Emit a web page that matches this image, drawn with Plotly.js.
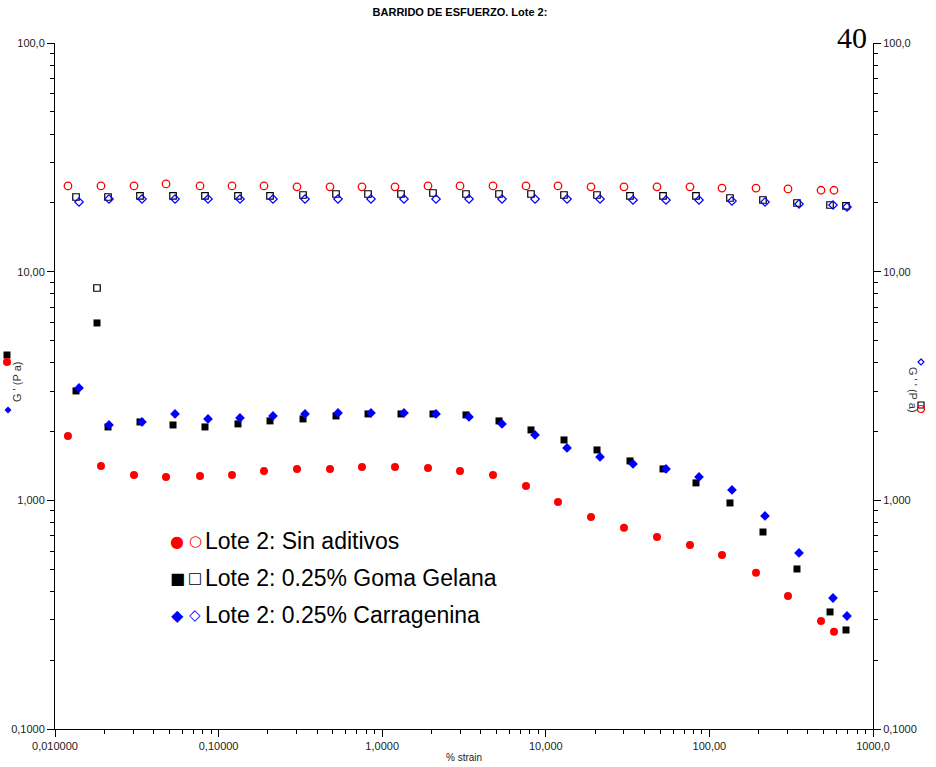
<!DOCTYPE html>
<html>
<head>
<meta charset="utf-8">
<script src="https://cdn.plot.ly/plotly-3.0.1.min.js"></script>
<style>html,body{margin:0;padding:0;background:#fff;}#chart{width:936px;height:767px;}</style>
</head>
<body>
<div id="chart"></div>
<script>
// Strain (%) values for each sample
const strainSin = [0.0120, 0.0191, 0.0304, 0.0477, 0.0770, 0.1208, 0.1894, 0.3014, 0.4798, 0.7523, 1.197, 1.905, 2.990, 4.757, 7.568, 11.87, 18.89, 30.06, 47.83, 76.10, 119.4, 192.7, 302.2, 481.2, 577.6];
const strainGelana = [0.01344, 0.01806, 0.02109, 0.03308, 0.05265, 0.08257, 0.1314, 0.2062, 0.3281, 0.5221, 0.8190, 1.303, 2.044, 3.252, 5.175, 8.120, 12.92, 20.56, 32.71, 52.05, 82.81, 133.6, 212.6, 343.1, 546.1, 683.9];
const strainCarr = [0.01402, 0.02138, 0.03401, 0.05415, 0.08614, 0.1351, 0.2150, 0.3374, 0.5369, 0.8541, 1.359, 2.133, 3.394, 5.399, 8.592, 13.48, 21.45, 34.12, 54.29, 86.38, 137.4, 218.7, 352.9, 569.4, 693.5];

// G' (Pa)
const gpSin = [1.912, 1.414, 1.291, 1.266, 1.279, 1.291, 1.345, 1.372, 1.372, 1.400, 1.400, 1.386, 1.345, 1.291, 1.156, 0.984, 0.846, 0.758, 0.692, 0.638, 0.577, 0.482, 0.382, 0.297, 0.266];
const gpGelana = [3.009, 5.966, 2.094, 2.202, 2.136, 2.094, 2.159, 2.225, 2.270, 2.339, 2.387, 2.387, 2.387, 2.363, 2.225, 2.032, 1.837, 1.661, 1.487, 1.372, 1.192, 0.974, 0.727, 0.501, 0.325, 0.271];
const gpCarr = [3.101, 2.136, 2.202, 2.387, 2.270, 2.293, 2.339, 2.387, 2.411, 2.411, 2.411, 2.387, 2.316, 2.159, 1.932, 1.695, 1.548, 1.443, 1.372, 1.266, 1.110, 0.855, 0.589, 0.374, 0.312];

// G'' (Pa)
const gppSin = [23.7, 23.7, 23.7, 24.2, 23.7, 23.7, 23.7, 23.5, 23.5, 23.5, 23.5, 23.7, 23.7, 23.7, 23.7, 23.7, 23.5, 23.5, 23.5, 23.5, 23.2, 23.2, 23.0, 22.7, 22.7];
const gppGelana = [21.21, 8.485, 21.21, 21.43, 21.43, 21.43, 21.43, 21.43, 21.64, 21.86, 21.86, 21.86, 22.08, 21.86, 21.86, 21.86, 21.64, 21.64, 21.43, 21.43, 21.43, 21.00, 20.58, 19.97, 19.57, 19.38];
const gppCarr = [20.17, 20.79, 20.79, 20.79, 20.79, 20.79, 20.79, 20.79, 20.79, 20.79, 20.79, 20.79, 20.79, 20.79, 20.79, 20.79, 20.79, 20.58, 20.58, 20.58, 20.38, 20.17, 19.77, 19.57, 19.18];

// Tick labels
const xTickVals = [0.01, 0.1, 1, 10, 100, 1000];
const xTickText = ["0,010000", "0,10000", "1,0000", "10,000", "100,00", "1000,0"];
const yTickVals = [0.1, 1, 10, 100];
const yTickText = ["0,1000", "1,000", "10,00", "100,0"];

const seriesNames = ["Lote 2: Sin aditivos", "Lote 2: 0.25% Goma Gelana", "Lote 2: 0.25% Carragenina"];

const RED = '#ff0000', BLUE = '#0000ff', BLACK = '#000000';

const traces = [
  {x: strainSin, y: gpSin, mode: 'markers', marker: {symbol: 'circle', size: 8, color: RED}, name: seriesNames[0], yaxis: 'y'},
  {x: strainGelana, y: gpGelana, mode: 'markers', marker: {symbol: 'square', size: 7, color: BLACK}, name: seriesNames[1], yaxis: 'y'},
  {x: strainCarr, y: gpCarr, mode: 'markers', marker: {symbol: 'diamond', size: 7.5, color: BLUE}, name: seriesNames[2], yaxis: 'y'},
  {x: strainSin, y: gppSin, mode: 'markers', marker: {symbol: 'circle-open', size: 7.5, color: RED, line: {width: 1.3}}, name: seriesNames[0], yaxis: 'y2'},
  {x: strainGelana, y: gppGelana, mode: 'markers', marker: {symbol: 'square-open', size: 6.5, color: BLACK, line: {width: 1.2}}, name: seriesNames[1], yaxis: 'y2'},
  {x: strainCarr, y: gppCarr, mode: 'markers', marker: {symbol: 'diamond-open', size: 6.5, color: BLUE, line: {width: 1.2}}, name: seriesNames[2], yaxis: 'y2'}
];

const tickFont = {family: 'Liberation Sans, Arial, sans-serif', size: 11, color: '#222'};
const yRange = [Math.log10(0.1), Math.log10(100)];

const yBase = {
  type: 'log', range: yRange, tickmode: 'array', tickvals: yTickVals, ticktext: yTickText,
  showgrid: false, zeroline: false, showline: true, linecolor: '#000', linewidth: 1,
  ticks: 'outside', ticklen: 7, tickcolor: '#000', tickfont: tickFont,
  minor: {dtick: 'D1', ticks: 'outside', ticklen: 4, tickcolor: '#000', showgrid: false}
};

function px2x(px) { return (px - 55) / 818; }
function px2y(py) { return (729 - py) / 686; }

const legendRows = [
  {y: 541, c: RED, f: '●', o: '○', t: seriesNames[0]},
  {y: 578, c: BLACK, f: '■', o: '□', t: seriesNames[1]},
  {y: 615, c: BLUE, f: '◆', o: '◇', t: seriesNames[2]}
];

const annotations = [];
legendRows.forEach(r => {
  annotations.push({xref: 'paper', yref: 'paper', x: px2x(177), y: px2y(r.y), text: r.f, showarrow: false, xanchor: 'center', yanchor: 'middle', font: {family: 'DejaVu Sans', size: 16, color: r.c}});
  annotations.push({xref: 'paper', yref: 'paper', x: px2x(195), y: px2y(r.y), text: r.o, showarrow: false, xanchor: 'center', yanchor: 'middle', font: {family: 'DejaVu Sans', size: 15, color: r.c}});
  annotations.push({xref: 'paper', yref: 'paper', x: px2x(203), y: px2y(r.y), text: r.t, showarrow: false, xanchor: 'left', yanchor: 'middle', font: {family: 'Liberation Sans Narrow, Liberation Sans, Arial Narrow, sans-serif', size: 23, color: '#000'}});
});

// axis titles
annotations.push({xref: 'paper', yref: 'paper', x: px2x(9), y: px2y(382), text: "G ' (P a)", textangle: -90, showarrow: false, font: {family: 'Liberation Sans, Arial, sans-serif', size: 11, color: '#333'}});
annotations.push({xref: 'paper', yref: 'paper', x: px2x(921), y: px2y(390), text: "G ' ' (P a)", textangle: 90, showarrow: false, font: {family: 'Liberation Sans, Arial, sans-serif', size: 11, color: '#333'}});

// page number
annotations.push({xref: 'paper', yref: 'paper', x: px2x(852), y: px2y(38), text: '40', showarrow: false, xanchor: 'center', yanchor: 'middle', font: {family: 'Liberation Serif, Times New Roman, serif', size: 30, color: '#000'}});
// x axis title
annotations.push({xref: 'paper', yref: 'paper', x: px2x(464), y: px2y(757), text: '% strain', showarrow: false, xanchor: 'center', yanchor: 'middle', font: {family: 'Liberation Sans, Arial, sans-serif', size: 10, color: '#222'}});

// small symbol keys beside the axis titles (drawn as shapes)
function keyShape(kind, cx, cy, r, color, filled) {
  const x0 = px2x(cx - r), x1 = px2x(cx + r), y0 = px2y(cy + r), y1 = px2y(cy - r);
  const base = {xref: 'paper', yref: 'paper', line: {color: color, width: filled ? 0 : 1.2}, fillcolor: filled ? color : 'rgba(0,0,0,0)'};
  if (kind === 'circle') return Object.assign(base, {type: 'circle', x0, x1, y0, y1});
  if (kind === 'square') return Object.assign(base, {type: 'rect', x0, x1, y0, y1});
  const xm = px2x(cx), ym = px2y(cy);
  return Object.assign(base, {type: 'path', path: `M ${xm} ${y1} L ${x1} ${ym} L ${xm} ${y0} L ${x0} ${ym} Z`});
}
const shapes = [
  keyShape('diamond', 8, 410, 3.5, BLUE, true),
  keyShape('square', 7, 355, 3.5, BLACK, true),
  keyShape('circle', 7, 362, 4, RED, true),
  keyShape('diamond', 921, 362, 3, BLUE, false),
  keyShape('square', 921, 405, 3, BLACK, false),
  keyShape('circle', 921, 409, 3.5, RED, false)
];

const layout = {
  width: 936, height: 767,
  margin: {l: 55, r: 63, t: 43, b: 38, pad: 0},
  paper_bgcolor: '#fff', plot_bgcolor: '#fff',
  showlegend: false,
  title: {text: 'BARRIDO DE ESFUERZO. Lote 2:', x: px2x(460), xref: 'paper', xanchor: 'center', y: 1 - 12 / 767, yanchor: 'middle', font: {family: 'Liberation Sans Narrow, Liberation Sans, Arial, sans-serif', size: 11, color: '#000', weight: 'bold'}},
  xaxis: {
    type: 'log', range: [Math.log10(0.01), Math.log10(1000)], tickmode: 'array', tickvals: xTickVals, ticktext: xTickText,
    showgrid: false, zeroline: false, showline: true, linecolor: '#000', linewidth: 1,
    ticks: 'outside', ticklen: 7, tickcolor: '#000', tickfont: tickFont,
    minor: {dtick: 'D1', ticks: 'outside', ticklen: 4, tickcolor: '#000', showgrid: false}
  },
  yaxis: Object.assign({}, yBase, {side: 'left'}),
  yaxis2: Object.assign({}, yBase, {side: 'right', overlaying: 'y'}),
  annotations: annotations,
  shapes: shapes
};

Plotly.newPlot('chart', traces, layout, {displayModeBar: false, staticPlot: true});
</script>
</body>
</html>
